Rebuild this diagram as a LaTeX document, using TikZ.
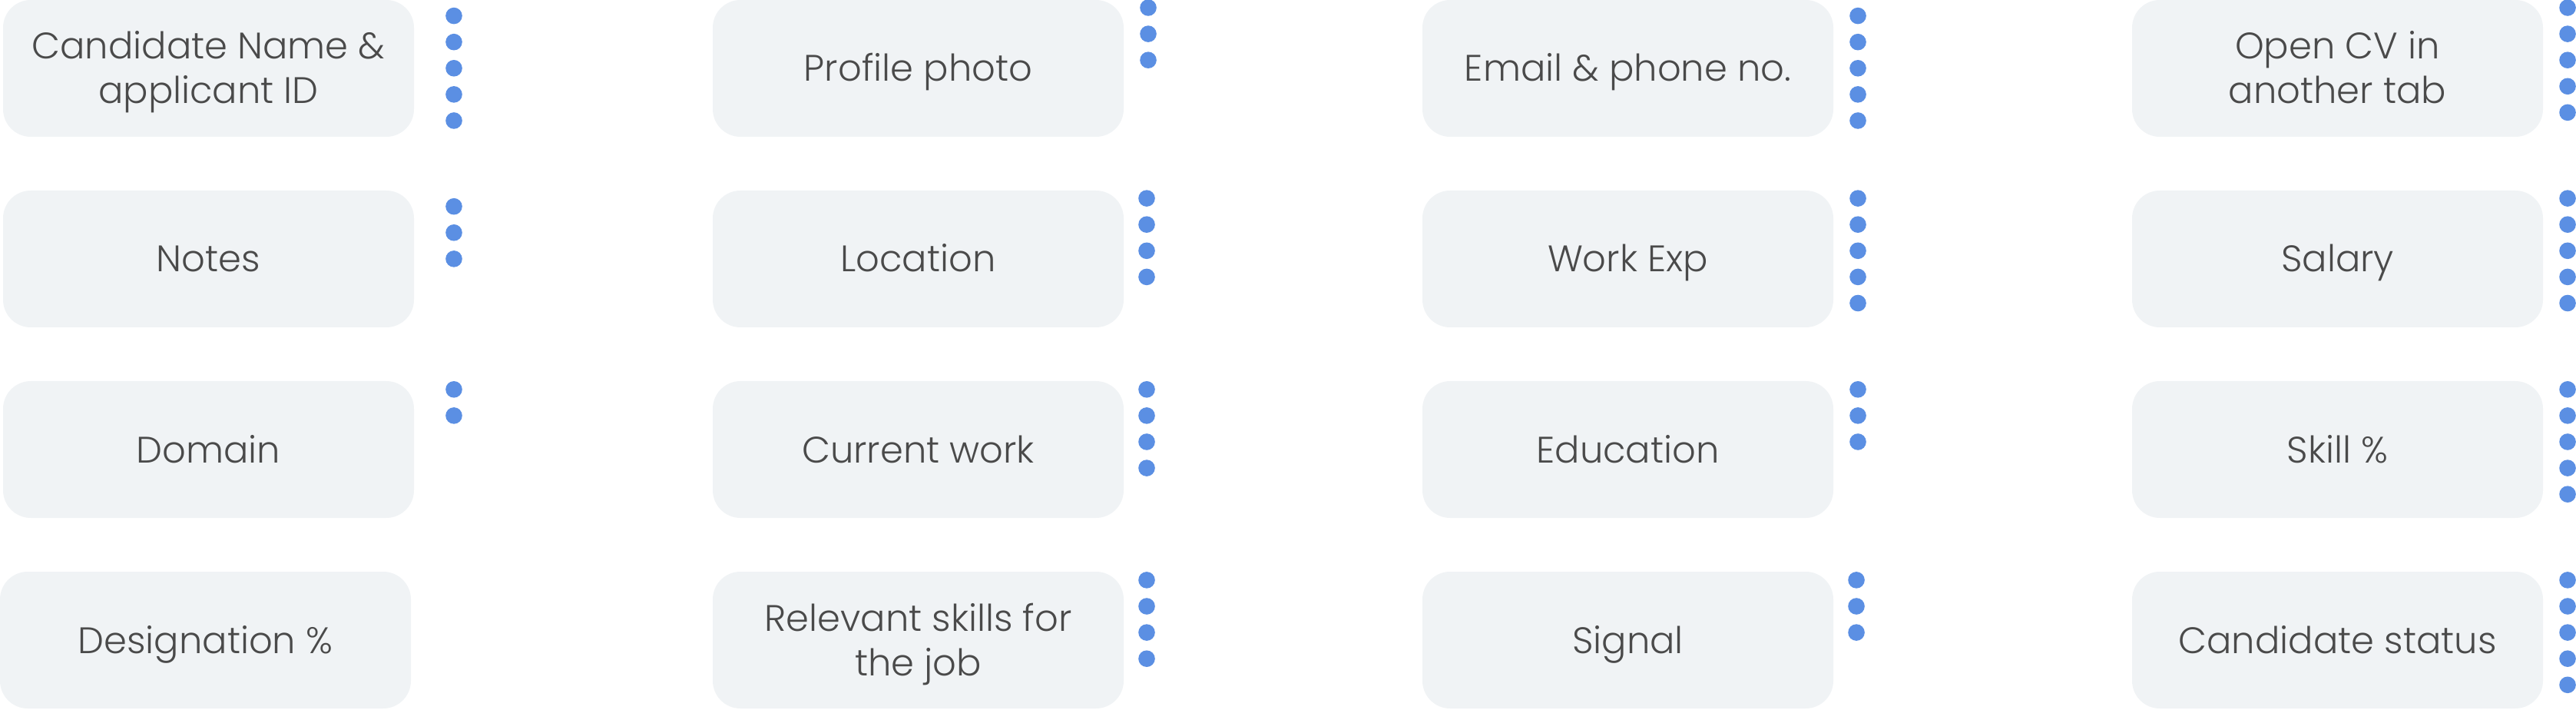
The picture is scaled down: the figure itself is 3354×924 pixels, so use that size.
\documentclass[tikz,border=0pt]{standalone}
\usepackage{fontspec}
\setmainfont{Poppins}[UprightFont={* Light}]
\definecolor{boxfill}{HTML}{F0F3F5}
\definecolor{dotblue}{HTML}{5B8FE3}
\definecolor{txtgray}{HTML}{4A4A4A}
\newcommand\dotcolumn[4]{%
  \foreach \i in {1,...,#4}{\node[bluedot] (#1-\i) at (#2,{#3+34.1*(\i-1)}) {};}}
\begin{document}
\begin{tikzpicture}[x=0.5pt,y=-0.5pt,
  card/.style={fill=boxfill, rounded corners=18pt, draw=none,
    minimum width=267.5pt, minimum height=89pt, text=txtgray,
    font=\fontsize{24}{29}\selectfont, align=center, inner sep=0pt,
    text height=17pt, text depth=0pt},
  twolines/.style={text height=46pt},
  bluedot/.style={circle, fill=dotblue, draw=none, minimum size=10.8pt, inner sep=0pt}]
\useasboundingbox (0,0) rectangle (3354,924);
% row 1
\node[card,twolines] (c11) at (271.5,89) {Candidate Name \&\\applicant ID};
\node[card] (c12) at (1195.5,89) {Profile photo};
\node[card] (c13) at (2119.5,89) {Email \& phone no.};
\node[card,twolines] (c14) at (3043.5,89) {Open CV in\\another tab};
% row 2
\node[card] (c21) at (271.5,337) {Notes};
\node[card] (c22) at (1195.5,337) {Location};
\node[card] (c23) at (2119.5,337) {Work Exp};
\node[card] (c24) at (3043.5,337) {Salary};
% row 3
\node[card] (c31) at (271.5,585) {Domain};
\node[card] (c32) at (1195.5,585) {Current work};
\node[card] (c33) at (2119.5,585) {Education};
\node[card] (c34) at (3043.5,585) {Skill \%};
% row 4
\node[card] (c41) at (267.5,833) {Designation \%};
\node[card,twolines] (c42) at (1195.5,833) {Relevant skills for\\the job};
\node[card] (c43) at (2119.5,833) {Signal};
\node[card] (c44) at (3043.5,833) {Candidate status};
% dots
\dotcolumn{d11}{591}{20.6}{5}
\dotcolumn{d12}{1495}{10}{3}
\dotcolumn{d13}{2419}{20.6}{5}
\dotcolumn{d14}{3343}{10}{5}
\dotcolumn{d21}{591}{268.7}{3}
\dotcolumn{d22}{1493}{258.1}{4}
\dotcolumn{d23}{2419}{258.1}{5}
\dotcolumn{d24}{3343}{258.1}{5}
\dotcolumn{d31}{591}{506.8}{2}
\dotcolumn{d32}{1493}{506.8}{4}
\dotcolumn{d33}{2419}{506.8}{3}
\dotcolumn{d34}{3343}{506.8}{5}
\dotcolumn{d42}{1493}{754.9}{4}
\dotcolumn{d43}{2417}{754.9}{3}
\dotcolumn{d44}{3343}{754.9}{5}
\end{tikzpicture}
\end{document}
